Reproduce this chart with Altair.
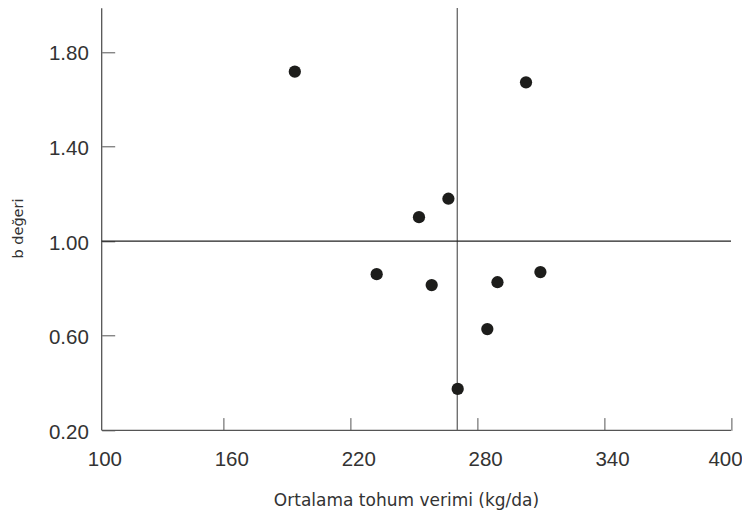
import altair as alt
import pandas as pd

# Data
yield_kg_da = [193.8, 303.1, 266.4, 252.5, 232.5, 258.5, 289.6, 309.9, 284.8, 270.8]
b_value = [1.716, 1.671, 1.179, 1.101, 0.860, 0.814, 0.826, 0.869, 0.628, 0.375]

x_ticks = [100, 160, 220, 280, 340, 400]
y_ticks = [0.20, 0.60, 1.00, 1.40, 1.80]

X_MIN, X_MAX = 100, 400
Y_MIN, Y_TOP = 0.20, 1.984
X_CROSS = 102.5        # where the y axis crosses the x axis
MEAN_YIELD = 270.6     # vertical reference line
B_REF = 1.00           # horizontal reference line
Y_LINE_TOP = 2.0

df = pd.DataFrame({"yield": yield_kg_da, "b": b_value})

xscale = alt.Scale(domain=[X_MIN, X_MAX], nice=False, zero=False)
yscale = alt.Scale(domain=[Y_MIN, Y_TOP], nice=False, zero=False)

LABEL_FONT = "Liberation Sans"
TITLE_FONT = "DejaVu Sans"

points = alt.Chart(df).mark_circle(size=150, color="#1d1d1b", opacity=1).encode(
    x=alt.X(
        "yield:Q",
        scale=xscale,
        axis=alt.Axis(
            values=x_ticks,
            title="Ortalama tohum verimi (kg/da)",
            domain=False,
            grid=False,
            offset=-12.7,
            tickSize=12.7,
            tickColor={"condition": {"test": "datum.value == 100", "value": "transparent"}, "value": "#555"},
            labelPadding=19,
            labelOffset={"condition": {"test": "datum.value == 400", "value": -6}, "value": 8},
            labelFont=LABEL_FONT,
            labelFontSize=20.5,
            labelColor="#333",
            labelFlush=False,
            titleFont=TITLE_FONT,
            titleFontSize=17,
            titleFontWeight="normal",
            titleColor="#333",
            titleX=309.6,
            titleY=87.5,
            titleBaseline="alphabetic",
            titleAnchor="start",
            titleAlign="center",
        ),
    ),
    y=alt.Y(
        "b:Q",
        scale=yscale,
        axis=alt.Axis(
            values=y_ticks,
            format=".2f",
            title="b değeri",
            domain=False,
            grid=False,
            offset=-18.3,
            tickSize=13,
            tickColor="#555",
            labelPadding=13.4,
            labelOffset=2,
            labelFont=LABEL_FONT,
            labelFontSize=20.5,
            labelColor="#333",
            labelFlush=False,
            titleFont=TITLE_FONT,
            titleFontSize=14.5,
            titleFontWeight="normal",
            titleColor="#333",
            titleAngle=270,
            titleAlign="center",
            titleBaseline="middle",
            titleX=-96.4,
            titleY=219.7,
        ),
    ),
)

y_axis_line = alt.Chart().mark_rule(color="#555", strokeWidth=1.3).encode(
    x=alt.datum(X_CROSS), y=alt.datum(Y_MIN), y2=alt.datum(Y_TOP)
)
x_axis_line = alt.Chart().mark_rule(color="#555", strokeWidth=1.3).encode(
    x=alt.datum(X_CROSS), x2=alt.datum(X_MAX), y=alt.datum(Y_MIN)
)
v_line = alt.Chart().mark_rule(color="#666", strokeWidth=1.3).encode(
    x=alt.datum(MEAN_YIELD), y=alt.datum(Y_MIN), y2=alt.datum(Y_LINE_TOP)
)
h_line = alt.Chart().mark_rule(color="#222", strokeWidth=1.2).encode(
    x=alt.datum(X_CROSS), x2=alt.datum(X_MAX), y=alt.datum(B_REF)
)

chart = (
    alt.layer(y_axis_line, x_axis_line, v_line, h_line, points)
    .properties(
        width=634.6,
        height=422,
        autosize=alt.AutoSizeParams(type="none"),
        padding={"left": 88.4, "top": 0.3, "right": 11, "bottom": 79.7},
        background="white",
    )
    .configure_view(stroke=None)
)

chart.save("out.html", embed_options={"renderer": "svg", "actions": False})
